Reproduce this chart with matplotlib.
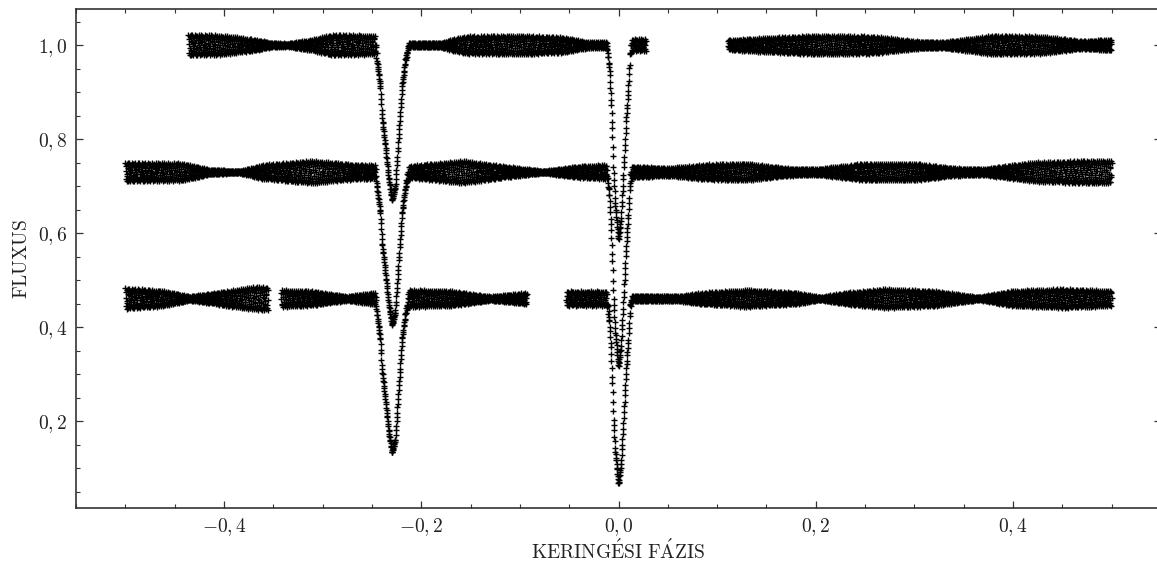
import numpy as np
import matplotlib
matplotlib.use("Agg")
import matplotlib.pyplot as plt
from matplotlib.ticker import MultipleLocator, FuncFormatter

plt.rcParams["mathtext.fontset"] = "cm"
plt.rcParams["font.family"] = "serif"
plt.rcParams["font.serif"] = ["cmr10", "DejaVu Serif"]
plt.rcParams["axes.unicode_minus"] = False

# ---------------- data ----------------
# phase coverage of each light curve (start, end)
top_segments = [(-0.436, 0.028), (0.111, 0.500)]
mid_segments = [(-0.500, 0.500)]
bot_segments = [(-0.500, -0.355), (-0.342, -0.093), (-0.053, 0.500)]

# out-of-eclipse flux levels (top, middle, bottom)
baselines = [1.000, 0.730, 0.461]

# eclipse minima phases and depths
sec_phase = -0.2296
pri_phase = 0.0
sec_depths = [0.330, 0.326, 0.329]
pri_depths = [0.415, 0.415, 0.396]

# eclipse profiles: offset from minimum -> fraction of the depth
sec_prof_x = [-0.0167, -0.0152, -0.0118, -0.0101, -0.0068, -0.0034, 0.0,
              0.0034, 0.0067, 0.0101, 0.0135, 0.0169]
sec_prof_f = [0.0, 0.10, 0.27, 0.46, 0.65, 0.85, 1.0,
              0.91, 0.59, 0.27, 0.10, 0.0]
pri_prof_x = [-0.0118, -0.0091, -0.0074, -0.0061, -0.0051, -0.0034, 0.0,
              0.0024, 0.0044, 0.0061, 0.0078, 0.0101, 0.0118, 0.0135]
pri_prof_f = [0.0, 0.128, 0.296, 0.47, 0.64, 0.81, 1.0,
              0.90, 0.72, 0.55, 0.385, 0.21, 0.04, 0.0]

# half-width of the pulsation band (phase, half-width)
top_env_x = [-0.436, -0.40, -0.37, -0.35, -0.335, -0.31, -0.29, -0.25,
             -0.213, -0.18, -0.157, -0.10, -0.055, -0.03, -0.012,
             0.012, 0.028, 0.111, 0.14, 0.20, 0.26, 0.30, 0.33, 0.38,
             0.43, 0.47, 0.50]
top_env_w = [0.022, 0.020, 0.012, 0.004, 0.003, 0.012, 0.022, 0.020,
             0.004, 0.005, 0.018, 0.020, 0.016, 0.006, 0.006,
             0.012, 0.012, 0.010, 0.014, 0.020, 0.018, 0.008, 0.006, 0.020,
             0.018, 0.008, 0.012]
mid_env_x = [-0.50, -0.44, -0.415, -0.385, -0.36, -0.31, -0.27, -0.248,
             -0.213, -0.157, -0.117, -0.076, -0.04, -0.012,
             0.014, 0.05, 0.09, 0.13, 0.17, 0.20, 0.25, 0.30, 0.34, 0.37,
             0.42, 0.47, 0.50]
mid_env_w = [0.020, 0.018, 0.005, 0.002, 0.015, 0.024, 0.016, 0.014,
             0.012, 0.024, 0.012, 0.002, 0.012, 0.015,
             0.012, 0.008, 0.016, 0.018, 0.008, 0.006, 0.018, 0.018, 0.008,
             0.006, 0.020, 0.024, 0.024]
bot_env_x = [-0.50, -0.46, -0.435, -0.415, -0.37, -0.355,
             -0.342, -0.31, -0.275, -0.25,
             -0.2136, -0.17, -0.13, -0.093,
             -0.053, -0.012,
             0.012, 0.06, 0.085, 0.13, 0.18, 0.205, 0.23, 0.27, 0.32, 0.365,
             0.40, 0.45, 0.50]
bot_env_w = [0.022, 0.016, 0.004, 0.010, 0.024, 0.024,
             0.018, 0.015, 0.004, 0.012,
             0.018, 0.016, 0.004, 0.012,
             0.015, 0.015,
             0.006, 0.005, 0.012, 0.018, 0.012, 0.003, 0.012, 0.020, 0.016,
             0.003, 0.016, 0.020, 0.016]

curves = [
    (top_segments, top_env_x, top_env_w),
    (mid_segments, mid_env_x, mid_env_w),
    (bot_segments, bot_env_x, bot_env_w),
]
cadence = 0.0003
# ---------------------------------------------------------------


def build(k, segments, env_x, env_w):
    ph = np.concatenate([np.arange(a, b + 1e-9, cadence) for a, b in segments])
    fs = np.interp(ph - sec_phase, sec_prof_x, sec_prof_f, left=0, right=0)
    fp = np.interp(ph - pri_phase, pri_prof_x, pri_prof_f, left=0, right=0)
    env = np.interp(ph, env_x, env_w)
    in_ecl = np.clip((fs + fp) * 8, 0, 1)
    env = env * (1 - in_ecl) + 0.0015 * in_ecl
    idx = np.arange(ph.size)
    puls = np.cos(2 * np.pi * ((idx * 0.6180339887) % 1.0))
    flux = baselines[k] + env * puls - sec_depths[k] * fs - pri_depths[k] * fp
    return ph, flux


fig = plt.figure(figsize=(11.57, 5.61), dpi=100)
ax = fig.add_axes([76 / 1157, 53 / 561, (1161 - 76) / 1157, (508 - 9.3) / 561])

for k, (segs, ex, ew) in enumerate(curves):
    x, y = build(k, segs, ex, ew)
    ax.plot(x, y, linestyle="none", marker="+", ms=3.8, mew=1.0,
            color="black")

ax.set_xlim(-0.55, 0.55)
ax.set_ylim(0.0155, 1.076)


def fmt(v, pos):
    if abs(v) < 1e-9:
        v = 0.0
    s = f"{v:.1f}".replace(".", ",")
    return f"${s}$"


ax.xaxis.set_major_locator(MultipleLocator(0.2))
ax.xaxis.set_minor_locator(MultipleLocator(0.05))
ax.yaxis.set_major_locator(MultipleLocator(0.2))
ax.yaxis.set_minor_locator(MultipleLocator(0.05))
ax.xaxis.set_major_formatter(FuncFormatter(fmt))
ax.yaxis.set_major_formatter(FuncFormatter(fmt))

ax.tick_params(which="both", direction="in", top=True, right=True,
               colors="#333333", labelcolor="#222222", labelsize=14)
ax.tick_params(which="major", length=5, width=0.9, pad=6)
ax.tick_params(which="minor", length=3, width=0.8)
for sp in ax.spines.values():
    sp.set_linewidth(1.2)
    sp.set_color("#333333")

xl = ax.set_xlabel(r"$\mathrm{KERING\acute{E}SI\ F\acute{A}ZIS}$",
                   fontsize=14, color="#222222")
xl.set_va("center")
ax.xaxis.set_label_coords(0.5, (508 - 551) / 498.7)
yl = ax.set_ylabel(r"$\mathrm{FLUXUS}$", fontsize=14, color="#222222")
yl.set_va("center")
ax.yaxis.set_label_coords((22 - 76) / 1085, 0.5)

fig.savefig("out.png", dpi=100)
